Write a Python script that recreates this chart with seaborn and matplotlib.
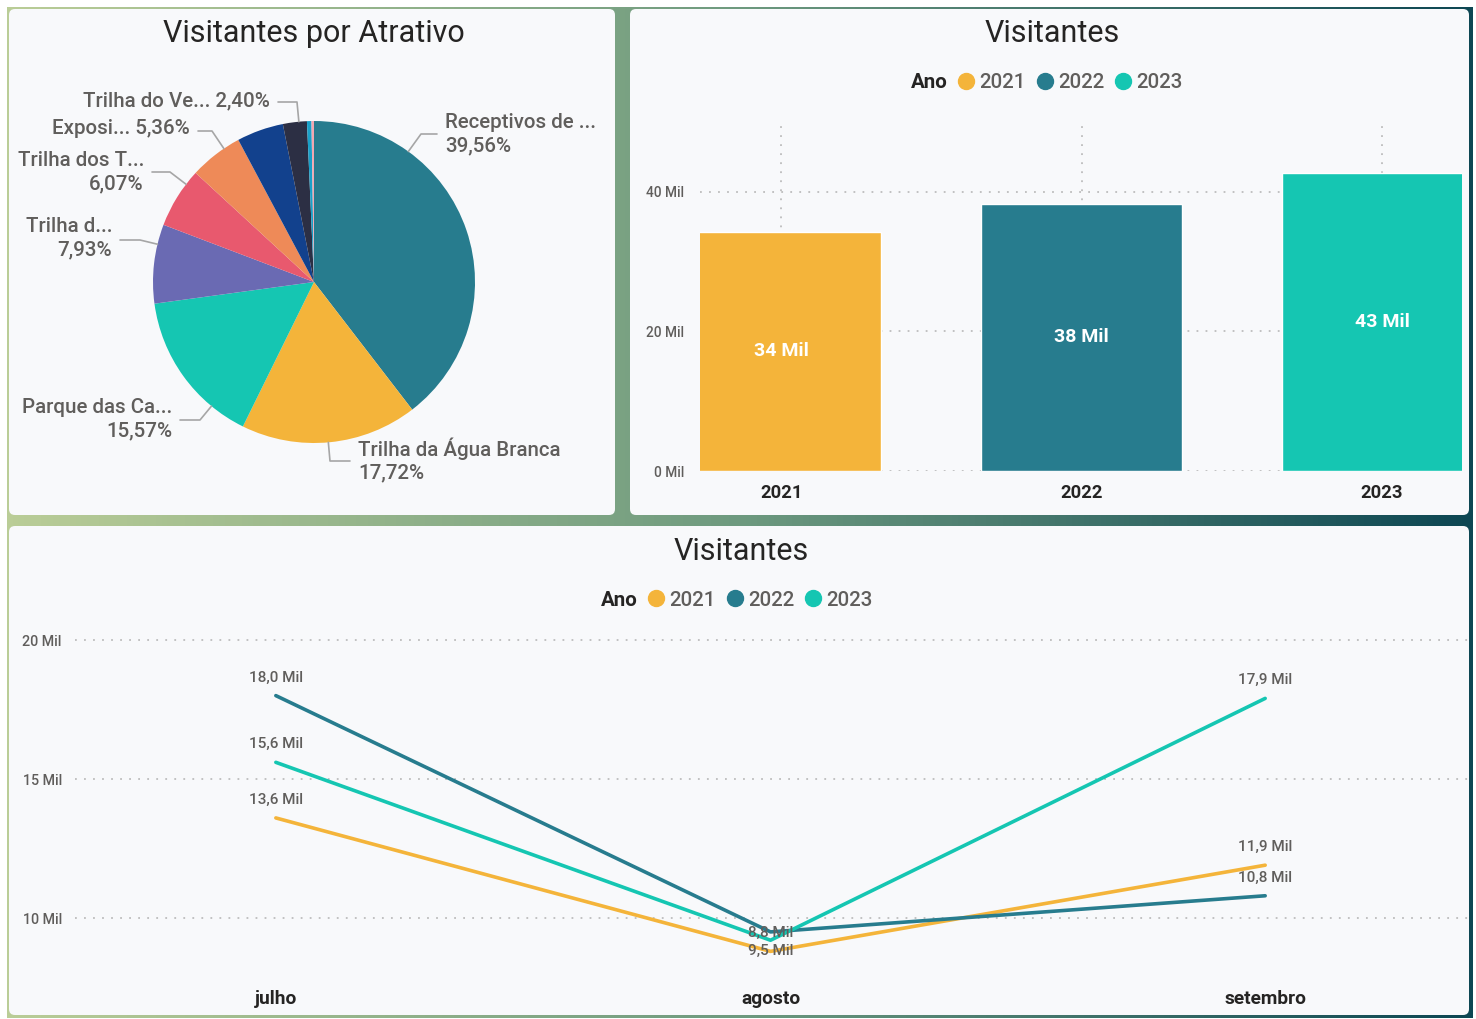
import numpy as np
import pandas as pd
import matplotlib
import matplotlib.pyplot as plt
import seaborn as sns
from matplotlib.colors import LinearSegmentedColormap
from matplotlib.lines import Line2D
from matplotlib.patches import FancyBboxPatch

matplotlib.use('Agg')

# --- data -------------------------------------------------------------
# share of visitors per attraction (%), clockwise from the top
atrativos = ['Receptivos de ...', 'Trilha da Água Branca', 'Parque das Ca...', 'Trilha d...',
             'Trilha dos T...', 'Exposi...', '', 'Trilha do Ve...', '', '']
participacao = [39.56, 17.72, 15.57, 7.93, 6.07, 5.36, 4.69, 2.40, 0.45, 0.25]
cores_pie = ['#277C8E', '#F4B43A', '#15C6B2', '#6A6AB3', '#E8596E', '#EE8A58',
             '#12418D', '#2C2F44', '#1AA0C8', '#F2A7B1']

# monthly visitors (thousands)
anos = ['2021', '2022', '2023']
meses = ['julho', 'agosto', 'setembro']
visit_2021 = [13.6, 8.8, 11.9]
visit_2022 = [18.0, 9.5, 10.8]
visit_2023 = [15.6, 9.2, 17.9]
cores_anos = ['#F4B43A', '#277C8E', '#15C6B2']

W, H = 1476, 1019
DARK = '#252423'
GRAY = '#605E5C'


def fx(x):
    return x / W


def fy(y):
    return 1 - y / H


def fmt_mil(v, dec=1):
    return f'{v:.{dec}f} Mil'.replace('.', ',')


sns.set_theme(style='white')
plt.rcParams['font.family'] = ['Roboto', 'DejaVu Sans']

df = pd.DataFrame({
    'Ano': np.repeat(anos, len(meses)),
    'Mes': meses * len(anos),
    'Visitantes': visit_2021 + visit_2022 + visit_2023,
})

fig = plt.figure(figsize=(W / 100, H / 100), dpi=100, facecolor='white')

# gradient frame behind the panels
bg = fig.add_axes([fx(7), fy(1018), fx(1472 - 7), (1018 - 7) / H], zorder=-2)
cmap = LinearSegmentedColormap.from_list('frame', ['#BACD97', '#6E9A7F', '#0D4753'])
bg.imshow(np.linspace(0, 1, 256)[None, :], aspect='auto', cmap=cmap, extent=[0, 1, 0, 1])
bg.axis('off')

# white panels (pixel boxes: x0, y0, x1, y1)
for x0, y0, x1, y1 in [(9, 9, 615, 515), (630, 9, 1469, 515), (9, 526, 1469, 1015)]:
    fig.add_artist(FancyBboxPatch((x0 / 100, (H - y1) / 100), (x1 - x0) / 100, (y1 - y0) / 100,
                                  boxstyle='round,pad=0,rounding_size=0.06',
                                  transform=fig.dpi_scale_trans, facecolor='#F8F9FB',
                                  edgecolor='none', zorder=-1))

TITLE = dict(ha='center', va='center', fontsize=22, color=DARK, fontweight='normal')

# --- pie: Visitantes por Atrativo ---------------------------------------
fig.text(fx(314), fy(33), 'Visitantes por Atrativo', **TITLE)
ax_pie = fig.add_axes([fx(153), fy(443), 322 / W, 322 / H])
ax_pie.set_facecolor('none')
ax_pie.pie(participacao, colors=cores_pie, startangle=90, counterclock=False,
           radius=1, wedgeprops=dict(linewidth=0))
ax_pie.set_xlim(-1, 1)
ax_pie.set_ylim(-1, 1)
ax_pie.set_aspect('equal')

total = sum(participacao)
# label layout in pixels: elbow point, text anchor, alignment, one or two lines
pie_layout = {
    'Receptivos de ...': ((421, 134), (445, 134), 'left', True),
    'Trilha da Água Branca': ((330, 461), (358, 460), 'left', True),
    'Parque das Ca...': ((200, 420), (172, 419), 'right', True),
    'Trilha d...': ((140, 240), (112, 238), 'right', True),
    'Trilha dos T...': ((170, 172), (144, 172), 'right', True),
    'Exposi...': ((212, 131), (190, 129), 'right', False),
    'Trilha do Ve...': ((297, 102), (270, 101), 'right', False),
}
cx, cy = ax_pie.transData.transform((0, 0))
r = ax_pie.transData.transform((1, 0))[0] - cx
for nome, v in zip(atrativos, participacao):
    if nome not in pie_layout:
        continue
    (ex, ey), (tx, ty), ha, two = pie_layout[nome]
    ex, ey, tx, ty = ex, H - ey, tx, H - ty
    d = np.hypot(ex - cx, ey - cy)
    sx, sy = cx + (ex - cx) * r / d, cy + (ey - cy) * r / d
    hx = tx - 8 if ha == 'left' else tx + 8
    fig.add_artist(Line2D([sx, ex, hx], [sy, ey, ey], color='#A6A6A6', lw=1.2,
                          transform=None))
    pct = f'{v / total * 100:.2f}%'.replace('.', ',')
    txt = f'{nome}\n{pct}' if two else f'{nome} {pct}'
    fig.text(tx, ty, txt, transform=None, ha=ha, va='center', fontsize=14.8,
             color=GRAY, linespacing=1.28, multialignment=ha, fontweight='medium')

# --- bars: Visitantes by year ------------------------------------------
fig.text(fx(1052), fy(33), 'Visitantes', **TITLE)
ax_bar = fig.add_axes([fx(700), fy(471), 762 / W, 346 / H])
ax_bar.set_facecolor('none')
sns.barplot(data=df, x='Ano', y='Visitantes', hue='Ano', estimator='sum', errorbar=None,
            palette=cores_anos, width=0.667, legend=False, saturation=1, ax=ax_bar)
for i, cont in enumerate(ax_bar.containers):
    for b in cont:
        h = b.get_height()
        ax_bar.text(i, h / 2, fmt_mil(h, 0), ha='center', va='center', color='white',
                    fontsize=14, fontweight='bold')
ax_bar.set_xlim(-0.27, 2.266)
ax_bar.set_ylim(0, 49.6)
ax_bar.set_yticks([0, 20, 40])
ax_bar.set_yticklabels([f'{t} Mil' for t in [0, 20, 40]], fontsize=9.8, color=GRAY,
                       fontweight='medium')
ax_bar.tick_params(axis='y', length=0, pad=11.5)
ax_bar.tick_params(axis='x', length=0, pad=9)
for lbl in ax_bar.get_xticklabels():
    lbl.set_fontweight('bold')
    lbl.set_fontsize(13.2)
    lbl.set_color(DARK)
ax_bar.set_xlabel('')
ax_bar.set_ylabel('')
ax_bar.set_axisbelow(True)
ax_bar.grid(True, axis='both', linestyle=(0, (1, 4)), color='#BDBDBD', linewidth=1.3)
sns.despine(ax=ax_bar, left=True, bottom=True)


def add_legend(x, y):
    handles = [Line2D([], [], ls='', marker=None)]
    handles += [Line2D([], [], ls='', marker='o', markersize=11.5, color=c) for c in cores_anos]
    leg = fig.legend(handles, ['Ano'] + anos, ncol=4, loc='center',
                     bbox_to_anchor=(fx(x), fy(y)), frameon=False, fontsize=14.8,
                     handlelength=0.8, handletextpad=0.25, columnspacing=0.5,
                     borderpad=0)
    for i, t in enumerate(leg.get_texts()):
        t.set_color(DARK if i == 0 else GRAY)
        t.set_fontweight('bold' if i == 0 else 'medium')


add_legend(1036, 83)

# --- lines: Visitantes by month -----------------------------------------
fig.text(fx(741), fy(551), 'Visitantes', **TITLE)
add_legend(726, 600)
ax_line = fig.add_axes([fx(75), fy(975), 1393 / W, 350 / H])
ax_line.set_facecolor('none')
sns.lineplot(data=df, x='Mes', y='Visitantes', hue='Ano', palette=cores_anos,
             linewidth=2.6, legend=False, sort=False, ax=ax_line)
for c in ax_line.lines:
    c.set_solid_capstyle('round')

# label placement: above by default, below for one point, one hidden
label_rules = {('2022', 'agosto'): 'below', ('2023', 'agosto'): None}
for _, row in df.iterrows():
    rule = label_rules.get((row['Ano'], row['Mes']), 'above')
    if rule is None:
        continue
    dy = 13 if rule == 'above' else -14
    ax_line.annotate(fmt_mil(row['Visitantes']), (row['Mes'], row['Visitantes']),
                     xytext=(0, dy), textcoords='offset points', ha='center', va='center',
                     fontsize=11, color=GRAY, fontweight='medium')

ax_line.set_xlim(-0.406, 2.41)
ax_line.set_ylim(7.95, 20.54)
ax_line.set_yticks([10, 15, 20])
ax_line.set_yticklabels([f'{t} Mil' for t in [10, 15, 20]], fontsize=10.3, color=GRAY,
                        fontweight='medium')
ax_line.tick_params(axis='y', length=0, pad=9.5)
ax_line.tick_params(axis='x', length=0, pad=11)
for lbl in ax_line.get_xticklabels():
    lbl.set_fontweight('bold')
    lbl.set_fontsize(13.8)
    lbl.set_color(DARK)
ax_line.set_xlabel('')
ax_line.set_ylabel('')
ax_line.set_axisbelow(True)
ax_line.grid(True, axis='y', linestyle=(0, (1, 4)), color='#BDBDBD', linewidth=1.3)
sns.despine(ax=ax_line, left=True, bottom=True)

fig.savefig('out.png', dpi=100, facecolor='white')
plt.close(fig)
